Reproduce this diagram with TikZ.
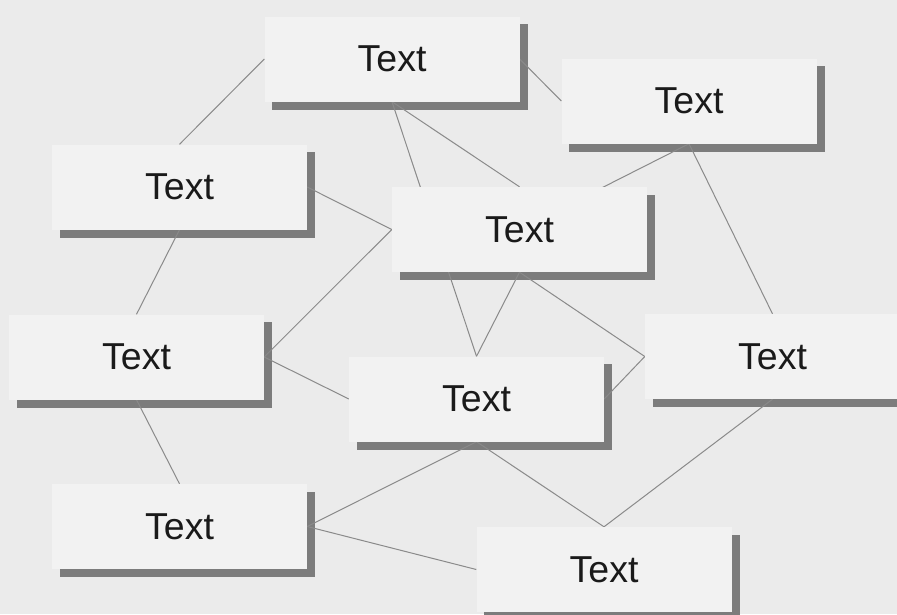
\documentclass[tikz,border=0pt]{standalone}
\usepackage{fontspec}
\setmainfont{Liberation Sans}
\pgfdeclarelayer{shade}
\pgfdeclarelayer{wires}
\pgfsetlayers{shade,wires,main}
\definecolor{canvas}{HTML}{EBEBEB}
\definecolor{boxfill}{HTML}{F2F2F2}
\definecolor{boxshadow}{HTML}{7C7C7C}
\definecolor{wire}{HTML}{8A8A8A}
\definecolor{ink}{HTML}{1A1A1A}
\tikzset{
  textbox/.style={rectangle, fill=boxfill, minimum width=255pt, minimum height=85pt,
    inner sep=0pt, text=ink, font=\fontsize{37.5}{42}\selectfont},
  link/.style={draw=wire, line width=1pt},
}
\newcommand{\dropshadow}[1]{%
  \fill[boxshadow] ([shift={(8,8)}]#1.south west) rectangle ([shift={(8,8)}]#1.north east);}
\begin{document}
\begin{tikzpicture}[x=1pt, y=-1pt]
  \begin{pgfonlayer}{shade}
    \fill[canvas] (0,0) rectangle (897,614);
  \end{pgfonlayer}
  \useasboundingbox (0,0) rectangle (897,614);

  % boxes
  \node[textbox] (t)  at (392,59)    {Text};
  \node[textbox] (tr) at (689,101)   {Text};
  \node[textbox] (lu) at (179.5,187) {Text};
  \node[textbox] (c)  at (519.5,229.5) {Text};
  \node[textbox] (lm) at (136.5,357) {Text};
  \node[textbox] (cl) at (476.5,399) {Text};
  \node[textbox] (r)  at (772.5,356.5) {Text};
  \node[textbox] (bl) at (179.5,526.5) {Text};
  \node[textbox] (b)  at (604,569.5) {Text};

  % shadows under everything
  \begin{pgfonlayer}{shade}
    \foreach \n in {t,tr,lu,c,lm,cl,r,bl,b} {\dropshadow{\n}}
  \end{pgfonlayer}

  % connectors
  \begin{pgfonlayer}{wires}
    \draw[link] (t.west)  -- (lu.north);
    \draw[link] (t.east)  -- (tr.west);
    \draw[link] (t.south) -- (c.north);
    \draw[link] (t.south) -- (cl.north);
    \draw[link] (tr.south) -- (c.center);
    \draw[link] (tr.south) -- (r.north);
    \draw[link] (lu.east) -- (c.west);
    \draw[link] (lu.south) -- (lm.north);
    \draw[link] (c.west) -- (lm.east);
    \draw[link] (lm.east) -- (cl.west);
    \draw[link] (c.south) -- (cl.north);
    \draw[link] (c.south) -- (r.west);
    \draw[link] (r.west) -- (cl.east);
    \draw[link] (r.south) -- (b.north);
    \draw[link] (cl.south) -- (b.north);
    \draw[link] (cl.south) -- (bl.east);
    \draw[link] (bl.east) -- (b.west);
    \draw[link] (lm.south) -- (bl.north);
  \end{pgfonlayer}
\end{tikzpicture}
\end{document}
